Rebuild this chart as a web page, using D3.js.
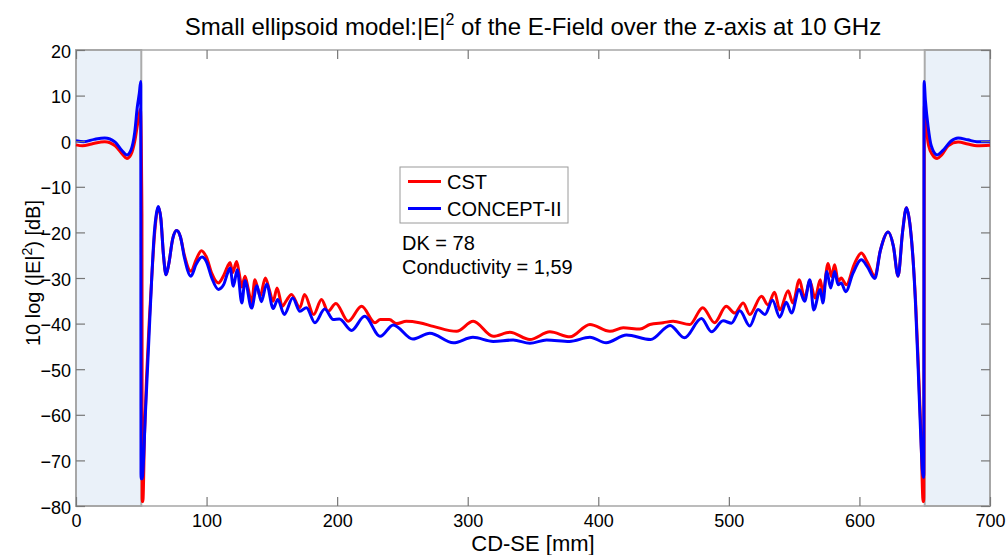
<!DOCTYPE html>
<html>
<head>
<meta charset="utf-8">
<script src="https://cdn.jsdelivr.net/npm/d3@7"></script>
<style>
body { margin: 0; background: #fff; }
svg { font-family: Arial, "Liberation Sans", sans-serif; }
</style>
</head>
<body>
<div id="chart"></div>
<script>
"use strict"

// CST curve, position along z [mm] and 10 log |E|^2 [dB]
let cstX = [0, 5, 12, 22, 30, 36, 39, 42, 45, 47, 48.5, 49.3, 50.5, 50.7, 51.2, 52.5, 54, 56, 58, 60, 61.5, 63, 65, 67, 69, 71, 74, 77, 80, 83, 88,
  92, 96, 100, 104, 109, 113, 116, 118, 120, 123, 125, 127, 129.4, 132, 134.5, 137, 141, 145, 148, 151, 154, 158, 161, 165, 171.5, 175, 182, 188, 193, 199,
  208.5, 218.7, 229, 233, 240, 245.5, 253, 263, 273.6, 291.5, 304.2, 319.5, 332.3, 347.6, 362.9, 378.3, 393.6, 408.9, 419.1, 431.9, 439.5, 449.7, 457.3,
  470, 480, 489, 498, 504.6, 511, 516, 525, 530, 535, 539, 545.4, 549, 554, 558, 562, 566, 570, 572, 576, 578.6, 581, 583.7, 586, 590, 596, 601.5,
  606, 611.8, 616, 622, 626, 629.6, 633, 636, 639, 641, 643, 645, 647, 648.8, 649.3, 649.7, 651, 653, 656, 659.5, 663, 668, 675.6, 683, 690, 700];
let cstY = [-0.8, -1.0, -0.6, -0.1, -1.0, -3.0, -3.8, -3.0, 0, 3.5, 6.0, 7.0, -16, -79, -79, -64, -52, -40, -30, -21, -16.5, -14.5, -17, -25, -29.3, -27, -21.5, -19.6, -21, -25, -28.5,
  -26, -24, -25.5, -29, -31.1, -29.5, -27.5, -26.6, -28.8, -26.4, -29, -32, -29.6, -32.5, -35.5, -30.4, -34, -30, -32.5, -35.1, -32.2, -36.2, -35, -33.6, -36.5, -33.6, -38, -34.7, -37.3, -35.6,
  -39.5, -36.2, -39.8, -39.1, -39.1, -40, -39.5, -39.8, -40.6, -41.7, -39.5, -42.8, -41.9, -43.5, -41.8, -42.9, -40.2, -41.7, -40.9, -41.2, -40.2, -39.8, -39.5,
  -40.2, -36.5, -39.8, -36.2, -37.7, -35.5, -38, -34, -35.9, -33.1, -37, -32.8, -35.5, -30.4, -34.4, -30.6, -34.4, -30.4, -33.3, -26.8, -29.7, -27.1, -30.7, -30, -31.5, -27, -24.5,
  -26.5, -29.6, -24, -19.9, -23, -29.6, -20, -14.6, -19, -25.6, -35, -48.3, -63, -79, -79, 8, 3.5, -1, -3, -3.8, -3, -1, -0.2, -0.6, -1.0, -0.9];

// CONCEPT-II curve
let conceptX = [0, 6, 14, 22, 30, 35, 39, 42, 45, 47, 48.5, 49.6, 49.8, 50.6, 53.3, 55.8, 58, 60, 61.5, 63, 65, 67, 68.9, 71, 74, 77.1, 80, 83, 88,
  92, 96.5, 100, 104, 109, 113, 116, 118, 120.5, 123.5, 127, 129.4, 134.5, 138.5, 142, 146, 151, 154.5, 159.5, 166, 171.5, 176.5, 183, 190.5, 197, 201.7,
  211, 221, 233, 243, 258, 271, 289, 304, 319.5, 334.8, 347.6, 360.4, 378, 393.6, 406, 421.6, 440, 455, 466, 479, 486.7, 495.6, 502, 508.4, 516, 522.4,
  527.6, 533.4, 539, 544, 548, 553.8, 558, 562, 565, 570, 572, 575, 578, 581, 583.7, 586, 589.5, 595, 601.5, 606, 611.8, 616, 622, 626, 629.6, 633, 636,
  639, 641, 643, 645, 647, 648.8, 649.3, 649.5, 650.5, 652.6, 655, 659.5, 664, 670, 675.6, 683, 690, 700];
let conceptY = [0.1, -0.1, 0.4, 0.7, -0.2, -2, -3, -2, 2, 7.6, 10.5, 13.1, -74, -74, -58.8, -43.5, -30, -20, -16, -14.3, -17, -25, -29.3, -27, -21.5, -19.6, -21, -25.5, -29.6,
  -27, -25.4, -26.5, -30, -32.5, -31.5, -29, -27.8, -31.8, -28.2, -35.5, -30.6, -36.6, -31.7, -35.2, -31.3, -36.7, -34.7, -38, -34.4, -37.3, -36.5, -39.8, -36.8, -39.1, -39,
  -41.5, -38.4, -42.8, -40.3, -43.4, -42.1, -44.2, -43, -43.9, -43.6, -44.3, -43.6, -43.9, -43, -44.2, -42.5, -43.5, -40.4, -43.1, -38.9, -41.8, -39.4, -39.9, -37.2, -40.5, -36.9,
  -38, -34.9, -38.6, -35.3, -37.7, -32.5, -35.1, -30.4, -37, -32.5, -35.5, -28.6, -32.2, -28.6, -31.5, -31.1, -33, -29, -26, -27.5, -30.1, -24, -19.9, -23, -29.6, -20, -14.6,
  -19, -25.6, -36, -50, -65, -73.7, -73.7, 13.1, 9, 3.2, -1, -3, -2, 0, 0.7, 0.3, -0.1, -0.1];

let xTicks = [0, 100, 200, 300, 400, 500, 600, 700];
let yTicks = [20, 10, 0, -10, -20, -30, -40, -50, -60, -70, -80];
let shadedRanges = [[0, 50], [650, 700]];
let seriesNames = ["CST", "CONCEPT-II"];
let seriesColors = ["#ff0000", "#0000ff"];
let notes = ["DK = 78", "Conductivity = 1,59"];

let drawingWidth = 1008;
let drawingHeight = 555;
let plotLeft = 76, plotRight = 990, plotTop = 50, plotBottom = 506;

let drawing = d3.select("#chart")
  .append("svg")
  .attr("width", drawingWidth)
  .attr("height", drawingHeight);

let x = d3.scaleLinear().domain([0, 700]).range([plotLeft, plotRight]);
let y = d3.scaleLinear().domain([-80, 20]).range([plotBottom, plotTop]);

// shaded zones at both ends
drawing.selectAll("rect.shade")
  .data(shadedRanges)
  .enter().append("rect")
  .attr("class", "shade")
  .attr("x", d => x(d[0]))
  .attr("y", plotTop)
  .attr("width", d => x(d[1]) - x(d[0]))
  .attr("height", plotBottom - plotTop)
  .attr("fill", "#eaf1f9")
  .attr("stroke", "#ababab")
  .attr("stroke-width", 2);

// axes box
drawing.append("rect")
  .attr("x", plotLeft)
  .attr("y", plotTop)
  .attr("width", plotRight - plotLeft)
  .attr("height", plotBottom - plotTop)
  .attr("fill", "none")
  .attr("stroke", "#a6a6a6")
  .attr("stroke-width", 1.5);

// curves
let line = d3.line()
  .x(d => x(d[0]))
  .y(d => y(d[1]))
  .curve(d3.curveMonotoneX);

let cstData = cstX.map((v, i) => [v, cstY[i]]);
let conceptData = conceptX.map((v, i) => [v, conceptY[i]]);

drawing.append("path")
  .datum(cstData)
  .attr("d", line)
  .attr("fill", "none")
  .attr("stroke", seriesColors[0])
  .attr("stroke-width", 3)
  .attr("stroke-linejoin", "round");

drawing.append("path")
  .datum(conceptData)
  .attr("d", line)
  .attr("fill", "none")
  .attr("stroke", seriesColors[1])
  .attr("stroke-width", 3)
  .attr("stroke-linejoin", "round");

// axes, ticks pointing inwards like MATLAB
function styleAxis(g) {
  g.select(".domain").remove();
  g.selectAll(".tick line").attr("stroke", "#777").attr("stroke-width", 1.2);
  g.selectAll(".tick text").attr("fill", "#000").attr("font-size", 18).attr("font-family", "Arial, 'Liberation Sans', sans-serif");
}

drawing.append("g")
  .attr("transform", `translate(0,${plotBottom})`)
  .call(d3.axisBottom(x).tickValues(xTicks).tickSizeInner(-9).tickSizeOuter(0).tickPadding(8))
  .call(styleAxis);

drawing.append("g")
  .attr("transform", `translate(${plotLeft},0)`)
  .call(d3.axisLeft(y).tickValues(yTicks).tickSizeInner(-9).tickSizeOuter(0).tickPadding(5))
  .call(styleAxis)
  .selectAll(".tick text").attr("dy", "0.39em");

drawing.append("g")
  .attr("transform", `translate(0,${plotTop})`)
  .call(d3.axisTop(x).tickValues(xTicks).tickSizeInner(-9).tickSizeOuter(0).tickFormat(""))
  .call(styleAxis);

drawing.append("g")
  .attr("transform", `translate(${plotRight},0)`)
  .call(d3.axisRight(y).tickValues(yTicks).tickSizeInner(-9).tickSizeOuter(0).tickFormat(""))
  .call(styleAxis);

// title
let title = drawing.append("text")
  .attr("x", (plotLeft + plotRight) / 2)
  .attr("y", 35)
  .attr("text-anchor", "middle")
  .attr("font-size", 24)
  .attr("fill", "#000");
title.append("tspan").text("Small ellipsoid model:|E|");
title.append("tspan").attr("font-size", 16).attr("dy", -10).text("2");
title.append("tspan").attr("dy", 10).text(" of the E-Field over the z-axis at 10 GHz");

// axis labels
drawing.append("text")
  .attr("x", (plotLeft + plotRight) / 2)
  .attr("y", 551)
  .attr("text-anchor", "middle")
  .attr("font-size", 22)
  .text("CD-SE [mm]");

let yLabel = drawing.append("text")
  .attr("transform", "translate(40,273) rotate(-90)")
  .attr("text-anchor", "middle")
  .attr("font-size", 20);
yLabel.append("tspan").text("10 log (|E|");
yLabel.append("tspan").attr("font-size", 14).attr("dy", -8).text("2");
yLabel.append("tspan").attr("dy", 8).text(") [dB]");

// legend
let legend = drawing.append("g").attr("transform", "translate(400,167)");
legend.append("rect")
  .attr("width", 168)
  .attr("height", 56)
  .attr("fill", "#fff")
  .attr("stroke", "#9a9a9a")
  .attr("stroke-width", 1);

seriesNames.forEach((name, i) => {
  legend.append("line")
    .attr("x1", 8).attr("x2", 41)
    .attr("y1", 14.5 + i * 27).attr("y2", 14.5 + i * 27)
    .attr("stroke", seriesColors[i])
    .attr("stroke-width", 3);
  legend.append("text")
    .attr("x", 47)
    .attr("y", 21.5 + i * 27)
    .attr("font-size", 20)
    .text(name);
});

// parameter notes
notes.forEach((t, i) => {
  drawing.append("text")
    .attr("x", 402)
    .attr("y", 250 + i * 24)
    .attr("font-size", 20)
    .text(t);
});
</script>
</body>
</html>
